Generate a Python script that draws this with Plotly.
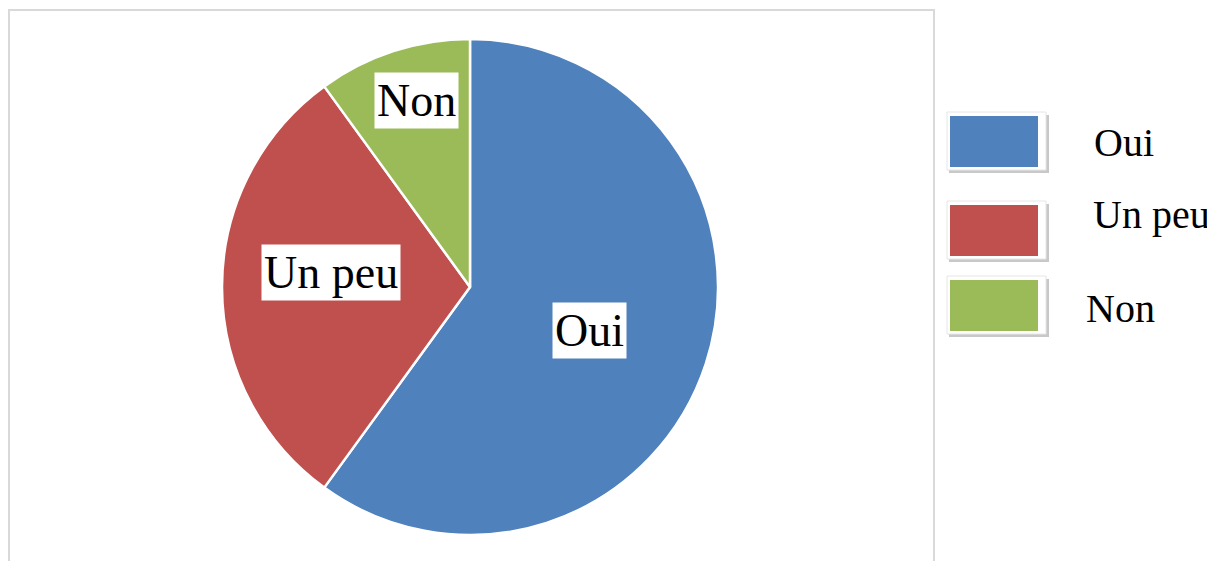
import math
import plotly.graph_objects as go

# ---- data ----
categories = ["Oui", "Un peu", "Non"]
values = [60, 30, 10]
colors = ["#4F81BD", "#C0504D", "#9BBB59"]

# ---- layout constants (pixels, in screenshot coordinates) ----
W, H = 1215, 561
OFF = 8  # page body margin
CX, CY, R = 470, 287, 248
FONT = "Liberation Serif, Times New Roman, serif"
# radial fraction and pixel shifts for in-slice labels
label_r = [0.52, 0.56, 0.79]
label_shift = [(-3, -4), (0, 15), (7, 0)]
# legend rows: top y of colored box, text x
leg_top = [116, 205, 280]
leg_text_x = [1092, 1091, 1084]
leg_text_y = [143, 214, 308]


def px(x):
    return (x - OFF) / W


def py(y):
    return 1 - (y - OFF) / H


fig = go.Figure()
fig.add_trace(go.Pie(
    labels=categories,
    values=values,
    sort=False,
    direction="clockwise",
    rotation=0,
    marker=dict(colors=colors, line=dict(color="white", width=2.5)),
    textinfo="none",
    hoverinfo="label+percent",
    domain=dict(x=[px(CX - R), px(CX + R)], y=[py(CY + R), py(CY - R)]),
    showlegend=False,
))

shapes = []
annotations = []

# outer chart border
shapes.append(dict(type="rect", xref="paper", yref="paper",
                   x0=px(9), x1=px(934), y0=py(590), y1=py(10),
                   line=dict(color="#D9D9D9", width=2), fillcolor="rgba(0,0,0,0)", layer="below"))

# in-slice labels computed from slice angles
total = sum(values)
cum = 0
for i, (cat, v) in enumerate(zip(categories, values)):
    mid = (cum + v / 2) / total * 2 * math.pi
    cum += v
    f = label_r[i]
    lx = CX + R * f * math.sin(mid) + label_shift[i][0]
    ly = CY - R * f * math.cos(mid) - label_shift[i][1]
    annotations.append(dict(x=px(lx), y=py(ly), xref="paper", yref="paper",
                            xanchor="center", yanchor="middle",
                            text=cat, showarrow=False,
                            font=dict(family=FONT, size=46, color="black"),
                            bgcolor="white", borderpad=2))

# custom legend with big 3D-ish swatches
for i, (cat, col) in enumerate(zip(categories, colors)):
    t = leg_top[i]
    x0, x1 = 950, 1038
    b = t + 51
    # shadow
    shapes.append(dict(type="rect", xref="paper", yref="paper",
                       x0=px(x0 - 1), x1=px(x1 + 11), y0=py(b + 6), y1=py(t - 1),
                       line=dict(width=0), fillcolor="#C8C8C8"))
    # white frame
    shapes.append(dict(type="rect", xref="paper", yref="paper",
                       x0=px(x0 - 3), x1=px(x1 + 8), y0=py(b + 3), y1=py(t - 4),
                       line=dict(color="#E6E6E6", width=1), fillcolor="white"))
    # colored box
    shapes.append(dict(type="rect", xref="paper", yref="paper",
                       x0=px(x0), x1=px(x1), y0=py(b), y1=py(t),
                       line=dict(width=0), fillcolor=col))
    annotations.append(dict(x=px(leg_text_x[i]), y=py(leg_text_y[i]), xref="paper", yref="paper",
                            xanchor="left", yanchor="middle",
                            text=cat, showarrow=False,
                            font=dict(family=FONT, size=40, color="black")))

fig.update_layout(
    width=W, height=H,
    margin=dict(l=0, r=0, t=0, b=0),
    paper_bgcolor="white", plot_bgcolor="white",
    shapes=shapes, annotations=annotations,
)

fig.write_html("out.html")
